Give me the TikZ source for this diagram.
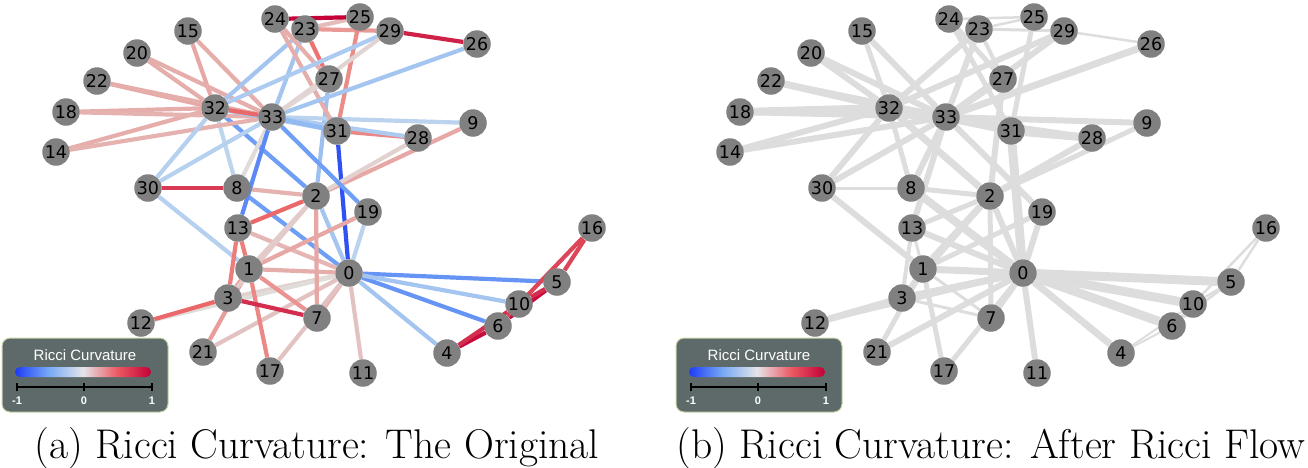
\documentclass[tikz,border=0pt]{standalone}
\usepackage{fontspec}
\newfontfamily\nodefont{DejaVu Sans}
\newfontfamily\legfont{Liberation Sans}
\usetikzlibrary{backgrounds}
\definecolor{cz}{RGB}{224,220,218}
\definecolor{czb}{RGB}{208,224,236}
\definecolor{cp1}{RGB}{238,115,112}
\definecolor{cp2}{RGB}{195,0,55}
\definecolor{cn1}{RGB}{120,170,245}
\definecolor{cn2}{RGB}{30,60,245}
\definecolor{rcol}{RGB}{221,221,221}
\definecolor{nodegray}{RGB}{128,128,128}
\definecolor{legfill}{RGB}{94,106,106}
\definecolor{legedge}{RGB}{200,214,170}
\definecolor{barw}{RGB}{228,228,232}
\definecolor{barr}{RGB}{236,90,100}
\pgfdeclarehorizontalshading{ricci}{100bp}{color(0bp)=(cn2); color(25bp)=(cn2); color(37.5bp)=(cn1); color(50bp)=(barw); color(62.5bp)=(barr); color(75bp)=(cp2); color(100bp)=(cp2)}
\newcommand\mkcol[1]{%
  \pgfmathsetmacro\cv{#1}%
  \ifdim\cv pt<0pt
    \ifdim\cv pt<-0.5pt
      \pgfmathsetmacro\ct{(abs(\cv)-0.5)*200}\colorlet{ec}{cn2!\ct!cn1}%
    \else
      \pgfmathsetmacro\ct{abs(\cv)*200}\colorlet{ec}{cn1!\ct!czb}%
    \fi
  \else
    \ifdim\cv pt>0.5pt
      \pgfmathsetmacro\ct{(\cv-0.5)*200}\colorlet{ec}{cp2!\ct!cp1}%
    \else
      \pgfmathsetmacro\ct{\cv*200}\colorlet{ec}{cp1!\ct!cz}%
    \fi
  \fi}
\tikzset{
  vtx/.style={circle, fill=nodegray, minimum size=27.5pt, inner sep=0pt,
    font=\nodefont\fontsize{17.5}{17.5}\selectfont, text=black},
  legbox/.style={rounded corners=8pt, fill=legfill, draw=legedge, line width=1pt},
  legtitle/.style={font=\legfont\fontsize{15}{15}\selectfont, text=white, inner sep=0pt},
  legtick/.style={font=\legfont\bfseries\fontsize{11}{11}\selectfont, text=white, inner sep=0pt},
  caption/.style={font=\fontsize{41.5}{44}\selectfont, inner sep=0pt, anchor=base}
}
\begin{document}
\begin{tikzpicture}[x=1pt,y=-1pt]
\useasboundingbox (0,0) rectangle (1308,467);
% nodes
\foreach \n/\x/\y in {0/349/273,1/249/269,2/316/196,3/228/298,4/447/353,5/557/282,6/498/326,
  7/317/318,8/237/188,9/473/123,10/519/304,11/363/373,12/141/323,13/238/228,14/56/152,
  15/188/31,16/592/228,17/270/371,18/66/112,19/368/212,20/137/53,21/203/352,22/97/81,
  23/305/29,24/275/19,25/360/17,26/477/44,27/329/79,28/418/138,29/390/31,30/148/188,
  31/337/131,32/215/108,33/272/117}{
  \node[vtx] (a\n) at (\x,\y) {\n};
  \node[vtx] (b\n) at (\x+674,\y) {\n};
}
% edges
\begin{pgfonlayer}{background}
\foreach \u/\v/\k/\w in {0/1/0.22/7,0/2/-0.25/6,0/3/0.05/7,0/4/-0.25/7,0/5/-0.6/9,0/6/-0.6/9,
  0/7/0.18/6,0/8/-0.55/8,0/10/-0.25/9,0/11/0.12/6,0/12/0.0/4,0/13/0.18/6,0/17/0.12/5,
  0/19/-0.12/6,0/21/0.12/6,0/31/-0.9/9,1/2/0.08/7,1/3/0.3/4,1/7/0.35/3,1/13/0.45/3,
  1/17/0.4/5,1/19/0.25/5,1/21/0.3/5,1/30/-0.15/6,2/3/0.08/5,2/7/0.25/5,2/8/0.2/5,
  2/9/0.25/5,2/13/0.55/5,2/27/-0.3/6,2/28/0.05/6,2/32/-0.55/7,3/7/0.8/3,3/12/0.55/7,
  3/13/0.45/4,4/6/0.95/2,4/10/0.8/2,5/6/0.95/2.5,5/10/0.8/2.5,5/16/0.7/2.5,6/16/0.7/2.5,
  8/30/0.75/3,8/32/-0.1/5,8/33/0.0/6,9/33/-0.12/6,13/33/-0.65/6,14/32/0.22/6,
  14/33/0.2/6,15/32/0.25/5,15/33/0.22/6,18/32/0.22/8,18/33/0.2/6,19/33/-0.55/6,
  20/32/0.22/6,20/33/0.22/6,22/32/0.25/7,22/33/0.22/6,23/25/0.15/2.5,23/27/0.5/4,
  23/29/0.32/3,23/32/-0.25/6,23/33/-0.25/6,24/25/1.0/2.5,24/27/0.22/5,24/31/0.22/5,
  25/31/0.38/5,26/29/0.85/2.5,26/33/-0.25/7,27/33/0.02/6,28/31/0.4/8,28/33/-0.2/6,
  29/32/-0.2/6,29/33/0.04/6,30/32/-0.15/6,30/33/-0.15/6,31/32/-0.25/6,31/33/-0.35/8,
  32/33/0.55/8}{
  \mkcol{\k}%
  \draw[line width=4.2pt, ec] (a\u) -- (a\v);
  \draw[line width=\w pt, rcol] (b\u) -- (b\v);
}
\end{pgfonlayer}
% legends
\foreach \dx/\p in {0/a,674/b}{
  \begin{scope}[xshift=\dx pt]
    \node[legbox, minimum width=166pt, minimum height=74pt, inner sep=0pt] (leg\p) at (85,375) {};
    \node[legtitle] (legt\p) at (85,355) {Ricci Curvature};
    \shade[shading=ricci, rounded corners=5pt] (15,367) rectangle (151,377);
    \coordinate (axl\p) at (17,387);
    \coordinate (axm\p) at (84,387);
    \coordinate (axr\p) at (152,387);
    \draw[line width=1.4pt, black] (axl\p) -- (axr\p);
    \draw[line width=1.4pt, black] ([yshift=-4pt]axl\p) -- ([yshift=4pt]axl\p);
    \draw[line width=1.4pt, black] ([yshift=-4pt]axm\p) -- ([yshift=4pt]axm\p);
    \draw[line width=1.4pt, black] ([yshift=-4pt]axr\p) -- ([yshift=4pt]axr\p);
    \node[legtick] (tm\p) at (17,401) {-1};
    \node[legtick] (tz\p) at (84,401) {0};
    \node[legtick] (tp\p) at (152,401) {1};
  \end{scope}
}
% captions
\node[caption] (capa) at (317,458) {(a) Ricci Curvature: The Original};
\node[caption] (capb) at (991,458) {(b) Ricci Curvature: After Ricci Flow};
\end{tikzpicture}
\end{document}
